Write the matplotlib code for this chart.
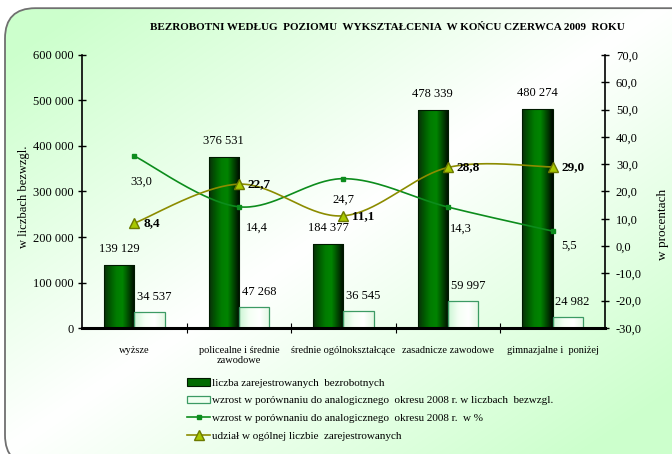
import matplotlib
matplotlib.use("Agg")
import matplotlib.pyplot as plt
import numpy as np
from matplotlib.colors import LinearSegmentedColormap, to_rgb
from matplotlib.patches import FancyBboxPatch, Rectangle
from matplotlib.lines import Line2D

plt.rcParams["font.family"] = ["Liberation Serif", "DejaVu Serif"]

TITLE = "BEZROBOTNI WEDŁUG  POZIOMU  WYKSZTAŁCENIA  W KOŃCU CZERWCA 2009  ROKU"
categories = [
    "wyższe",
    "policealne i średnie\nzawodowe",
    "średnie ogólnokształcące",
    "zasadnicze zawodowe",
    "gimnazjalne i  poniżej",
]
registered = [139129, 376531, 184377, 478339, 480274]
increase_abs = [34537, 47268, 36545, 59997, 24982]
increase_pct = [33.0, 14.4, 24.7, 14.3, 5.5]
share_pct = [8.4, 22.7, 11.1, 28.8, 29.0]

legend_labels = [
    "liczba zarejestrowanych  bezrobotnych",
    "wzrost w porównaniu do analogicznego  okresu 2008 r. w liczbach  bezwzgl.",
    "wzrost w porównaniu do analogicznego  okresu 2008 r.  w %",
    "udział w ogólnej liczbie  zarejestrowanych",
]

DARK = "#006a00"
LINE_GREEN = "#0c8c1c"
OLIVE = "#8c8c00"


def fmt_int(v):
    return f"{v:,}".replace(",", " ")


def fmt_pct(v):
    return f"{v:.1f}".replace(".", ",")


def smooth(xs, ys, n=40):
    # bezier smoothing similar to the spreadsheet "smoothed line"
    pts = np.column_stack([xs, ys]).astype(float)
    out = []
    for i in range(len(pts) - 1):
        p0 = pts[max(i - 1, 0)]
        p1 = pts[i]
        p2 = pts[i + 1]
        p3 = pts[min(i + 2, len(pts) - 1)]
        c1 = p1 + (p2 - p0) / 6
        c2 = p2 - (p3 - p1) / 6
        t = np.linspace(0, 1, n)[:, None]
        seg = ((1 - t) ** 3) * p1 + 3 * ((1 - t) ** 2) * t * c1 + 3 * (1 - t) * t ** 2 * c2 + t ** 3 * p2
        out.append(seg if i == 0 else seg[1:])
    out = np.vstack(out)
    return out[:, 0], out[:, 1]


fig = plt.figure(figsize=(6.72, 4.54), dpi=100)

# background with rounded frame
bg = fig.add_axes([0, 0, 1, 1], zorder=-10)
bg.set_xlim(0, 1)
bg.set_ylim(0, 1)
bg.axis("off")
H, W = 454, 672
yy, xx = np.mgrid[0:H, 0:W]
d = (xx / W + yy / H) / 2
f = np.clip(np.abs(d - 0.5) * 2.3, 0, 1)[..., None]
green = np.array(to_rgb("#ccffcc"))
img = np.ones((H, W, 3)) + (green - 1) * f
frame = FancyBboxPatch((5 / W, -0.025), 1.2, 0.982 + 0.025, boxstyle="round,pad=0,rounding_size=0.045",
                       transform=bg.transAxes, facecolor="none", edgecolor="#707070", lw=1.3,
                       mutation_aspect=W / H)
bg.add_patch(frame)
im = bg.imshow(img, extent=[0, 1, 0, 1], aspect="auto", origin="upper")
im.set_clip_path(frame)

ax = fig.add_axes([0.122, 0.2775, 0.778, 0.6014])
ax.patch.set_alpha(0)
x = np.arange(len(categories))
w = 0.29

dark_cmap = LinearSegmentedColormap.from_list(
    "dk", ["#0a300a", "#005a00", "#007c00", "#008400", "#004800", "#000800"])
light_cmap = LinearSegmentedColormap.from_list("lt", ["#ccf5d4", "#f4fff4", "#ffffff", "#e2f8e2"])

bars1 = ax.bar(x - w / 2, registered, w, color=DARK, edgecolor="#001a00", lw=0.8, zorder=2)
bars2 = ax.bar(x + w / 2, increase_abs, w, color="white", edgecolor="#3c9a64", lw=0.9, zorder=2)
grad = np.linspace(0, 1, 64)[None, :]
for bars, cmap in ((bars1, dark_cmap), (bars2, light_cmap)):
    for b in bars:
        x0, y0 = b.get_x(), b.get_y()
        gi = ax.imshow(grad, cmap=cmap, extent=[x0, x0 + b.get_width(), y0, y0 + b.get_height()],
                       aspect="auto", zorder=2.1)
        gi.set_clip_path(b)
        b.set_facecolor("none")
        b.set_zorder(2.2)

ax.set_xlim(-0.5, len(categories) - 0.5)
ax.set_ylim(0, 600000)
ax.set_yticks(np.arange(0, 600001, 100000))
ax.set_yticklabels([fmt_int(v) for v in range(0, 600001, 100000)], fontsize=9)
ax.set_xticks(x)
ax.set_xticklabels(categories, fontsize=7.5)
ax.set_xticks(np.arange(0.5, len(categories) - 1, 1), minor=True)
ax.tick_params(axis="x", which="major", length=0, pad=13)
ax.tick_params(axis="x", which="minor", length=7, direction="inout", width=0.8)
ax.tick_params(axis="y", length=6, direction="inout", width=1, pad=3)
ax.spines["top"].set_visible(False)
ax.spines["right"].set_visible(False)
ax.spines["left"].set_linewidth(1.2)
ax.spines["bottom"].set_linewidth(2.2)
ax.set_ylabel("w liczbach bezwzgl.", fontsize=9)
ax.yaxis.set_label_coords(-0.1, 0.48)

for b, v in zip(bars1, registered):
    ax.annotate(fmt_int(v), (b.get_x() + b.get_width() / 2, v), xytext=(0, 10),
                textcoords="offset pixels", ha="center", va="bottom", fontsize=9)
for b, v in zip(bars2, increase_abs):
    ax.annotate(fmt_int(v), (b.get_x() + b.get_width() / 2, v), xytext=(5, 9),
                textcoords="offset pixels", ha="center", va="bottom", fontsize=9)

ax2 = ax.twinx()
ax2.patch.set_alpha(0)
ax2.set_ylim(-30, 70)
ax2.set_yticks(np.arange(-30, 71, 10))
ax2.set_yticklabels([fmt_pct(v) for v in range(-30, 71, 10)], fontsize=9)
ax2.tick_params(axis="y", length=6, direction="inout", width=1, pad=5)
for s in ("top", "left", "bottom"):
    ax2.spines[s].set_visible(False)
ax2.spines["right"].set_linewidth(1.2)
ax2.set_ylabel("w procentach", fontsize=9.5, rotation=90)
ax2.yaxis.set_label_coords(1.099, 0.38)

sx, sy = smooth(x, increase_pct)
ax2.plot(sx, sy, color=LINE_GREEN, lw=1.2, zorder=3)
ax2.plot(x, increase_pct, ls="none", marker="s", ms=3, color=LINE_GREEN, zorder=3)
sx, sy = smooth(x, share_pct)
ax2.plot(sx, sy, color=OLIVE, lw=1.2, zorder=3)
ax2.plot(x, share_pct, ls="none", marker="^", ms=7, mfc="#a8c800", mec="#6c7a00", zorder=4)

pct_offsets = [(7, -26), (18, -21), (0, -21), (13, -22), (17, -15)]
for xi, v, off in zip(x, increase_pct, pct_offsets):
    ax2.annotate(fmt_pct(v), (xi, v), xytext=off, textcoords="offset pixels",
                 ha="center", va="center", fontsize=9)
for xi, v in zip(x, share_pct):
    ax2.annotate(fmt_pct(v), (xi, v), xytext=(9, 0), textcoords="offset pixels",
                 ha="left", va="center", fontsize=9.5, fontweight="bold")

fig.text(0.577, 0.94, TITLE, ha="center", va="center", fontsize=8, fontweight="bold")

handles = [
    Rectangle((0, 0), 1, 1, facecolor=DARK, edgecolor="#001a00", lw=0.8),
    Rectangle((0, 0), 1, 1, facecolor="#f0fff0", edgecolor="#3c9a64", lw=0.9),
    Line2D([], [], color=LINE_GREEN, lw=1.2, marker="s", ms=3),
    Line2D([], [], color=OLIVE, lw=1.2, marker="^", ms=7, mfc="#a8c800", mec="#6c7a00"),
]
fig.legend(handles, legend_labels, loc="upper left", bbox_to_anchor=(0.279, 0.168),
           frameon=False, fontsize=8, handlelength=2.0, handletextpad=0.2,
           labelspacing=0.72, borderpad=0, borderaxespad=0)

fig.savefig("out.png", dpi=100)
